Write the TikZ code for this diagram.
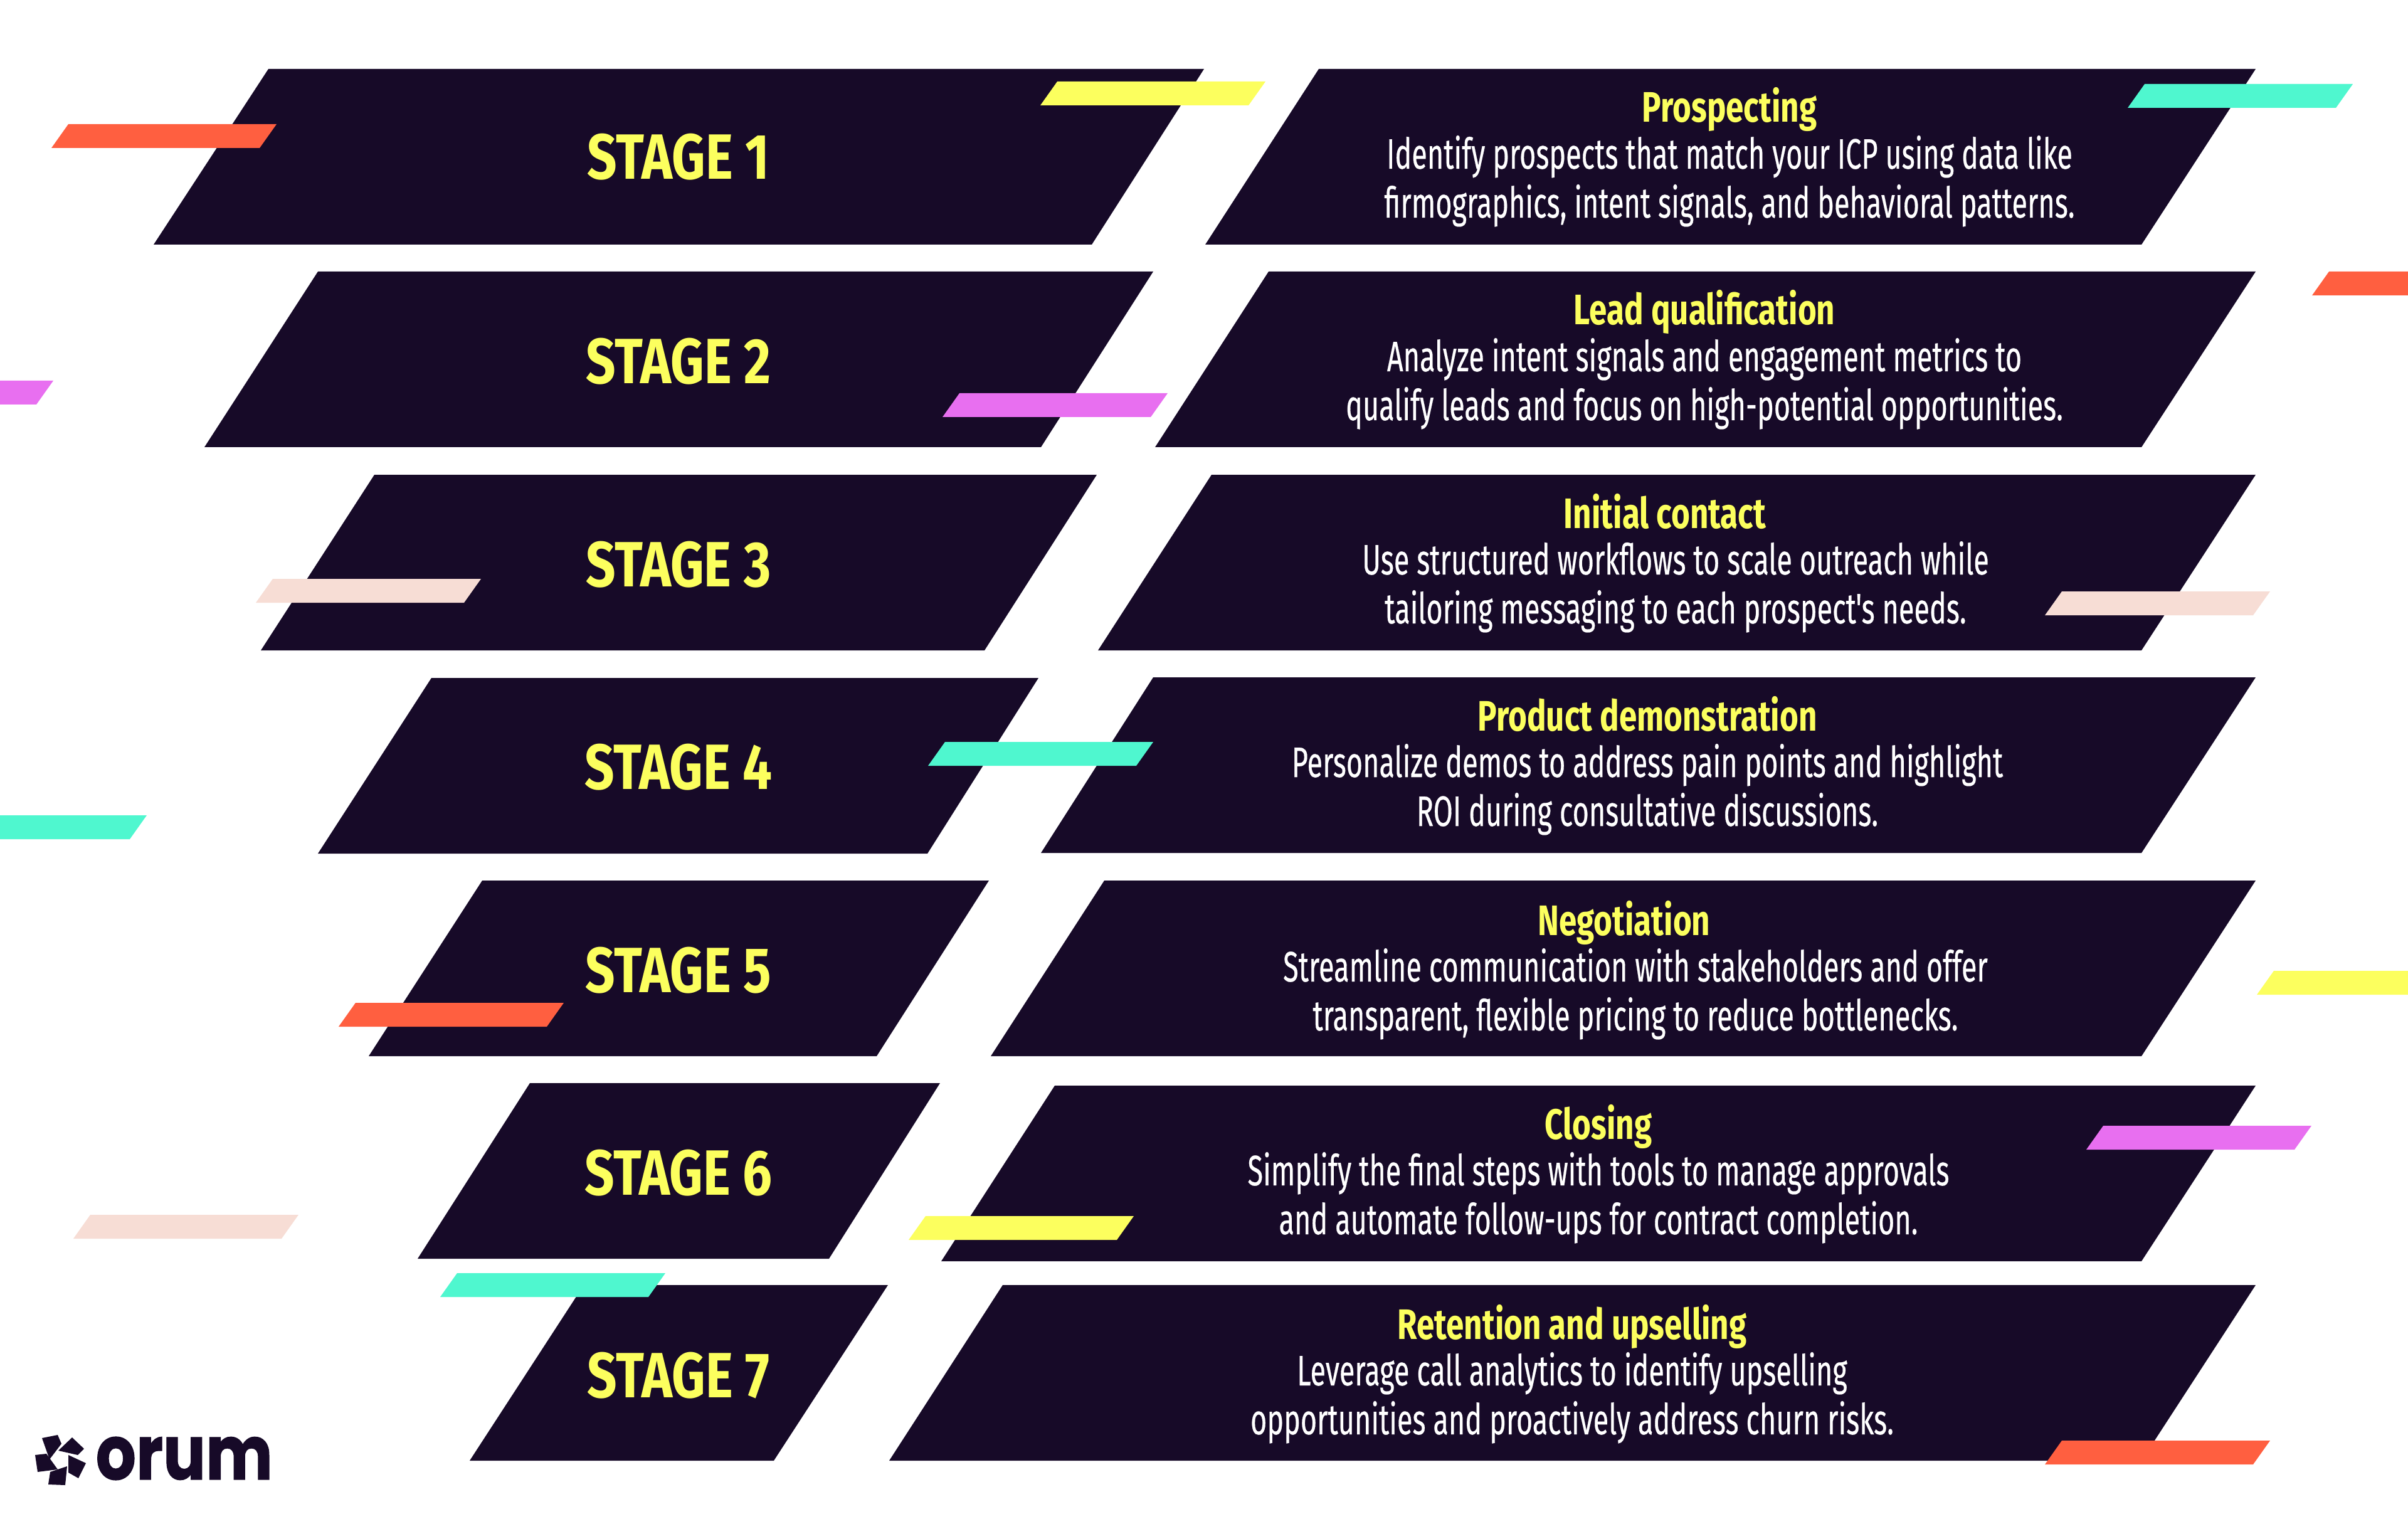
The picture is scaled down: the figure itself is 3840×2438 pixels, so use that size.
\documentclass[tikz,border=0pt]{standalone}
\usepackage{fontspec}
\setmainfont{Fira Sans}
\newfontfamily\bodyf[FakeStretch=0.662,FakeBold=0.3]{Fira Sans}
\newfontfamily\titlef[FakeStretch=0.752]{Fira Sans}
\newfontfamily\stagef[FakeStretch=0.815]{Fira Sans}
\newfontfamily\logof[FakeBold=1]{Poppins}
\definecolor{ink}{RGB}{23,10,40}
\definecolor{lemon}{RGB}{252,255,94}
\definecolor{coral}{RGB}{255,95,64}
\definecolor{mint}{RGB}{79,247,207}
\definecolor{orchid}{RGB}{232,111,240}
\definecolor{blush}{RGB}{247,221,213}
\tikzset{
  x=0.25pt,y=-0.25pt,
  stagelabel/.style={text=lemon,inner sep=0,font=\stagef\fontsize{25.5}{30}\selectfont\bfseries},
  titlelabel/.style={text=lemon,inner sep=0,font=\titlef\fontsize{17}{20}\selectfont\bfseries},
  bodylabel/.style={text=white,inner sep=0,font=\bodyf\fontsize{17}{20}\selectfont},
}
% panel: bottom-left x, top-left x, top-right x, bottom-right x, top y
\newcommand{\panel}[5]{\fill[ink] (#1,#5+280) -- (#2,#5) -- (#3,#5) -- (#4,#5+280) -- cycle;}
% bar: left x of bottom, top y, colour
\newcommand{\barshape}[3]{\fill[#3] (#1-1,#2+38) -- (#1+26,#2) -- (#1+358,#2) -- (#1+331,#2+38) -- cycle;}
% row: name, row top y, centre x of title, centre x of body, title, line 1, line 2
\newcommand{\textrow}[7]{%
  \node[titlelabel,anchor=center] (t#1) at (#3,#2+69) {\strut #5};
  \node[bodylabel,anchor=center] (a#1) at (#4,#2+143) {\strut #6};
  \node[bodylabel,anchor=center] (b#1) at (#4,#2+221) {\strut #7};
}
\begin{document}
\begin{tikzpicture}
\useasboundingbox (0,0) rectangle (3840,2438);
\fill[white] (0,0) rectangle (3840,2438);
% left panels
\panel{245}{428}{1920}{1741}{110}
\panel{326}{507}{1839}{1660}{433}
\panel{416}{597}{1749}{1570}{757}
\panel{507}{688}{1656}{1479}{1081}
\panel{588}{769}{1577}{1398}{1404}
\panel{666}{845}{1499}{1322}{1727}
\panel{749}{931}{1416}{1234}{2049}
% right panels
\panel{1922}{2103}{3597}{3415}{110}
\panel{1842}{2023}{3597}{3415}{433}
\panel{1751}{1932}{3597}{3415}{757}
\panel{1660}{1839}{3597}{3415}{1080}
\panel{1580}{1761}{3597}{3415}{1404}
\panel{1501}{1682}{3597}{3415}{1731}
\panel{1418}{1599}{3597}{3415}{2049}
% stage labels
\node[stagelabel] (s1) at (1082,250) {STAGE 1};
\node[stagelabel] (s2) at (1082,576) {STAGE 2};
\node[stagelabel] (s3) at (1082,900) {STAGE 3};
\node[stagelabel] (s4) at (1082,1223) {STAGE 4};
\node[stagelabel] (s5) at (1082,1547) {STAGE 5};
\node[stagelabel] (s6) at (1082,1870) {STAGE 6};
\node[stagelabel] (s7) at (1082,2193) {STAGE 7};
% descriptions
\textrow{1}{110}{2758}{2758}{Prospecting}{Identify prospects that match your ICP using data like}{firmographics, intent signals, and behavioral patterns.}
\textrow{2}{433}{2718}{2718}{Lead qualification}{Analyze intent signals and engagement metrics to}{qualify leads and focus on high-potential opportunities.}
\textrow{3}{757}{2655}{2672}{Initial contact}{Use structured workflows to scale outreach while}{tailoring messaging to each prospect's needs.}
\textrow{4}{1080}{2627}{2627}{Product demonstration}{Personalize demos to address pain points and highlight}{ROI during consultative discussions.}
\textrow{5}{1406}{2590}{2608}{Negotiation}{Streamline communication with stakeholders and offer}{transparent, flexible pricing to reduce bottlenecks.}
\textrow{6}{1731}{2549}{2549}{Closing}{Simplify the final steps with tools to manage approvals}{and automate follow-ups for contract completion.}
\textrow{7}{2050}{2507}{2507}{Retention and upselling}{Leverage call analytics to identify upselling}{opportunities and proactively address churn risks.}
% bars
\barshape{1660}{130}{lemon}
\barshape{83}{198}{coral}
\barshape{3394}{134}{mint}
\barshape{3688}{433}{coral}
\barshape{-273}{607}{orchid}
\barshape{1504}{627}{orchid}
\barshape{409}{923}{blush}
\barshape{3262}{943}{blush}
\barshape{1481}{1183}{mint}
\barshape{-124}{1300}{mint}
\barshape{541}{1599}{coral}
\barshape{3600}{1548}{lemon}
\barshape{3328}{1795}{orchid}
\barshape{1450}{1939}{lemon}
\barshape{118}{1937}{blush}
\barshape{703}{2030}{mint}
\barshape{3262}{2297}{coral}
% logo
\fill[ink] (67,2293) -- (92,2288) -- (98,2302) -- (79,2327) -- cycle;
\fill[ink] (115,2292) -- (134,2310) -- (124,2320) -- (93,2313) -- cycle;
\fill[ink] (109,2320) -- (137,2333) -- (125,2357) -- (109,2348) -- cycle;
\fill[ink] (107,2338) -- (104,2368) -- (77,2367) -- (80,2347) -- cycle;
\fill[ink] (56,2320) -- (74,2318) -- (92,2343) -- (60,2347) -- cycle;
\node[anchor=base west,inner sep=0,text=ink] (logo) at (152,2359) {\resizebox{70.5pt}{17pt}{\logof\bfseries orum}};
\end{tikzpicture}
\end{document}
